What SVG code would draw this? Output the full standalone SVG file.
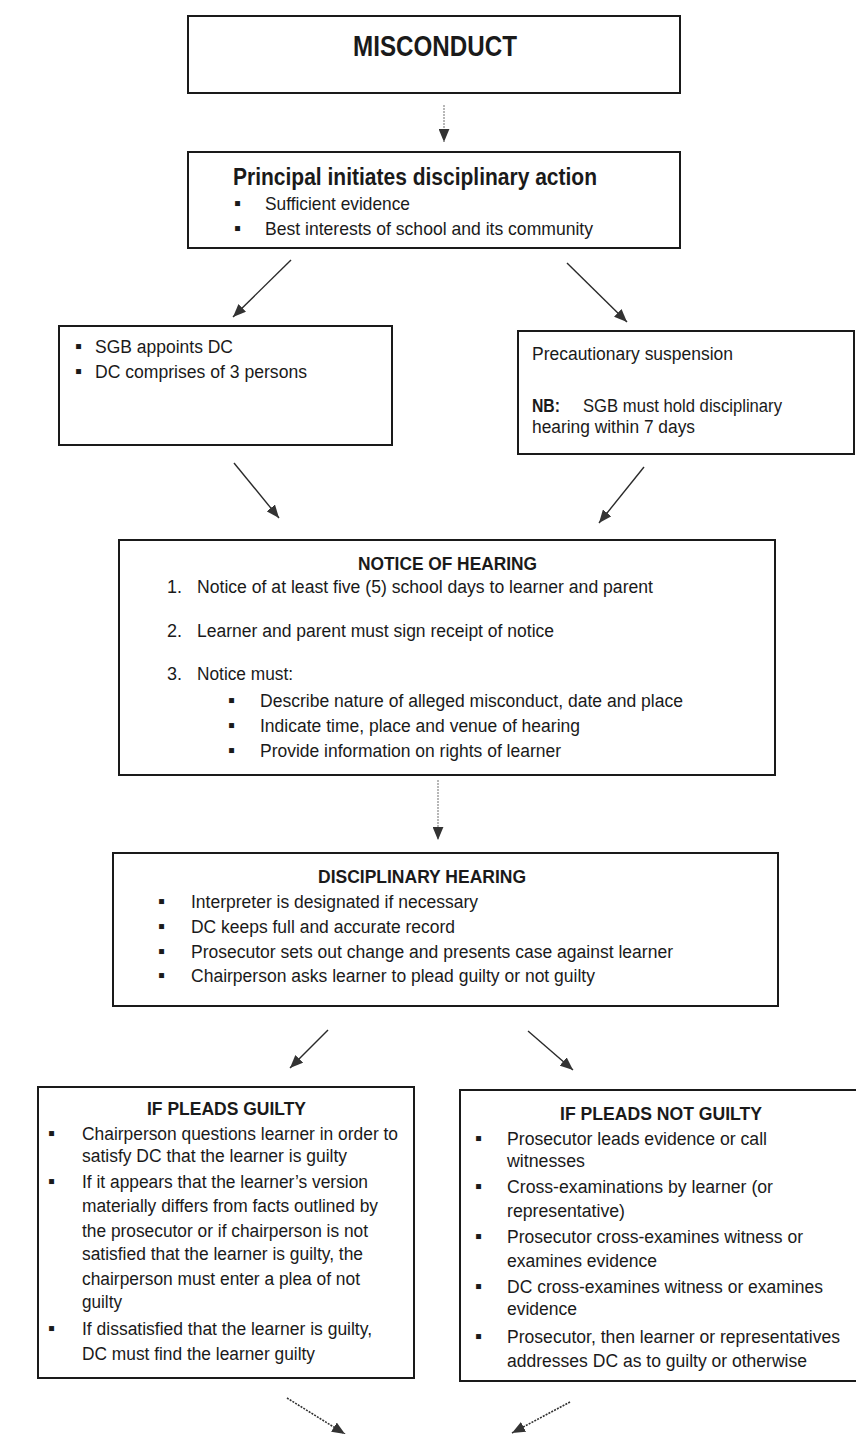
<svg xmlns="http://www.w3.org/2000/svg" width="856" height="1434" viewBox="0 0 856 1434">
<style>
.box{fill:#fff;stroke:#1a1a1a;stroke-width:2}
text{font-family:"Liberation Sans",Arial,sans-serif;fill:#1a1a1a}
.t{font-size:19px}
.s{font-size:18px}
.b{font-weight:bold}
.u{font-size:20px}
.c{stroke:#2a2a2a;stroke-width:1.4;fill:none}
.g{stroke:#888;stroke-width:1.2;stroke-dasharray:2 1;fill:none}
.d{stroke:#333;stroke-width:1.6;stroke-dasharray:2 1.2;fill:none}
</style>
<defs>
<marker id="ah" viewBox="0 0 12 10" refX="12" refY="5" markerWidth="13" markerHeight="11" markerUnits="userSpaceOnUse" orient="auto">
<path d="M0,0 L12,5 L0,10 z" fill="#333"/>
</marker>
</defs>
<rect width="856" height="1434" fill="#fff"/>
<g id="connectors">
<line class="g" x1="444" y1="105" x2="444" y2="142" marker-end="url(#ah)"/>
<line class="c" x1="291" y1="260" x2="233" y2="317" marker-end="url(#ah)"/>
<line class="c" x1="567" y1="263" x2="627" y2="322" marker-end="url(#ah)"/>
<line class="c" x1="234" y1="463" x2="279" y2="518" marker-end="url(#ah)"/>
<line class="c" x1="644" y1="467" x2="599" y2="523" marker-end="url(#ah)"/>
<line class="g" x1="438" y1="780" x2="438" y2="840" marker-end="url(#ah)"/>
<line class="c" x1="328" y1="1030" x2="290" y2="1068" marker-end="url(#ah)"/>
<line class="c" x1="528" y1="1031" x2="573" y2="1070" marker-end="url(#ah)"/>
<line class="d" x1="287" y1="1398" x2="345" y2="1434" marker-end="url(#ah)"/>
<line class="d" x1="570" y1="1402" x2="512" y2="1433" marker-end="url(#ah)"/>
</g>
<g id="misconduct">
<rect class="box" x="188" y="16" width="492" height="77"/>
<text x="353" y="56" font-size="29" class="b" textLength="164" lengthAdjust="spacingAndGlyphs">MISCONDUCT</text>
</g>
<g id="principal">
<rect class="box" x="188" y="152" width="492" height="96"/>
<text x="233" y="185" font-size="23" class="b" textLength="364" lengthAdjust="spacingAndGlyphs">Principal initiates disciplinary action</text>
<text x="234" y="210" class="u">▪</text>
<text x="265" y="210" class="t" textLength="145" lengthAdjust="spacingAndGlyphs">Sufficient evidence</text>
<text x="234" y="235" class="u">▪</text>
<text x="265" y="235" class="t" textLength="328" lengthAdjust="spacingAndGlyphs">Best interests of school and its community</text>
</g>
<g id="sgb">
<rect class="box" x="59" y="326" width="333" height="119"/>
<text x="75" y="353" class="u">▪</text>
<text x="95" y="353" class="s" textLength="138" lengthAdjust="spacingAndGlyphs">SGB appoints DC</text>
<text x="75" y="378" class="u">▪</text>
<text x="95" y="378" class="s" textLength="212" lengthAdjust="spacingAndGlyphs">DC comprises of 3 persons</text>
</g>
<g id="suspension">
<rect class="box" x="518" y="331" width="336" height="123"/>
<text x="532" y="360" class="s" textLength="201" lengthAdjust="spacingAndGlyphs">Precautionary suspension</text>
<text x="532" y="412" class="s b" textLength="28" lengthAdjust="spacingAndGlyphs">NB:</text>
<text x="583" y="412" class="s" textLength="199" lengthAdjust="spacingAndGlyphs">SGB must hold disciplinary</text>
<text x="532" y="433" class="s" textLength="163" lengthAdjust="spacingAndGlyphs">hearing within 7 days</text>
</g>
<g id="notice">
<rect class="box" x="119" y="540" width="656" height="235"/>
<text x="358" y="570" class="t b" textLength="179" lengthAdjust="spacingAndGlyphs">NOTICE OF HEARING</text>
<text x="167" y="593" class="s">1.</text>
<text x="197" y="593" class="s" textLength="456" lengthAdjust="spacingAndGlyphs">Notice of at least five (5) school days to learner and parent</text>
<text x="167" y="637" class="s">2.</text>
<text x="197" y="637" class="s" textLength="357" lengthAdjust="spacingAndGlyphs">Learner and parent must sign receipt of notice</text>
<text x="167" y="680" class="s">3.</text>
<text x="197" y="680" class="s" textLength="96" lengthAdjust="spacingAndGlyphs">Notice must:</text>
<text x="228" y="707" class="u">▪</text>
<text x="260" y="707" class="s" textLength="423" lengthAdjust="spacingAndGlyphs">Describe nature of alleged misconduct, date and place</text>
<text x="228" y="732" class="u">▪</text>
<text x="260" y="732" class="s" textLength="320" lengthAdjust="spacingAndGlyphs">Indicate time, place and venue of hearing</text>
<text x="228" y="757" class="u">▪</text>
<text x="260" y="757" class="s" textLength="301" lengthAdjust="spacingAndGlyphs">Provide information on rights of learner</text>
</g>
<g id="hearing">
<rect class="box" x="113" y="853" width="665" height="153"/>
<text x="318" y="883" class="t b" textLength="208" lengthAdjust="spacingAndGlyphs">DISCIPLINARY HEARING</text>
<text x="158" y="908" class="u">▪</text>
<text x="191" y="908" class="s" textLength="287" lengthAdjust="spacingAndGlyphs">Interpreter is designated if necessary</text>
<text x="158" y="933" class="u">▪</text>
<text x="191" y="933" class="s" textLength="264" lengthAdjust="spacingAndGlyphs">DC keeps full and accurate record</text>
<text x="158" y="958" class="u">▪</text>
<text x="191" y="958" class="s" textLength="482" lengthAdjust="spacingAndGlyphs">Prosecutor sets out change and presents case against learner</text>
<text x="158" y="982" class="u">▪</text>
<text x="191" y="982" class="s" textLength="404" lengthAdjust="spacingAndGlyphs">Chairperson asks learner to plead guilty or not guilty</text>
</g>
<g id="guilty">
<rect class="box" x="38" y="1087" width="376" height="291"/>
<text x="147" y="1115" class="s b" textLength="159" lengthAdjust="spacingAndGlyphs">IF PLEADS GUILTY</text>
<text x="48" y="1140" class="u">▪</text>
<text x="82" y="1140" class="s" textLength="316" lengthAdjust="spacingAndGlyphs">Chairperson questions learner in order to</text>
<text x="82" y="1162" class="s" textLength="265" lengthAdjust="spacingAndGlyphs">satisfy DC that the learner is guilty</text>
<text x="48" y="1188" class="u">▪</text>
<text x="82" y="1188" class="s" textLength="286" lengthAdjust="spacingAndGlyphs">If it appears that the learner’s version</text>
<text x="82" y="1212" class="s" textLength="296" lengthAdjust="spacingAndGlyphs">materially differs from facts outlined by</text>
<text x="82" y="1237" class="s" textLength="286" lengthAdjust="spacingAndGlyphs">the prosecutor or if chairperson is not</text>
<text x="82" y="1260" class="s" textLength="281" lengthAdjust="spacingAndGlyphs">satisfied that the learner is guilty, the</text>
<text x="82" y="1285" class="s" textLength="278" lengthAdjust="spacingAndGlyphs">chairperson must enter a plea of not</text>
<text x="82" y="1308" class="s" textLength="40" lengthAdjust="spacingAndGlyphs">guilty</text>
<text x="48" y="1335" class="u">▪</text>
<text x="82" y="1335" class="s" textLength="290" lengthAdjust="spacingAndGlyphs">If dissatisfied that the learner is guilty,</text>
<text x="82" y="1360" class="s" textLength="233" lengthAdjust="spacingAndGlyphs">DC must find the learner guilty</text>
</g>
<g id="notguilty">
<rect class="box" x="460" y="1090" width="400" height="291"/>
<text x="560" y="1120" class="s b" textLength="202" lengthAdjust="spacingAndGlyphs">IF PLEADS NOT GUILTY</text>
<text x="475" y="1145" class="u">▪</text>
<text x="507" y="1145" class="s" textLength="260" lengthAdjust="spacingAndGlyphs">Prosecutor leads evidence or call</text>
<text x="507" y="1167" class="s" textLength="78" lengthAdjust="spacingAndGlyphs">witnesses</text>
<text x="475" y="1193" class="u">▪</text>
<text x="507" y="1193" class="s" textLength="266" lengthAdjust="spacingAndGlyphs">Cross-examinations by learner (or</text>
<text x="507" y="1217" class="s" textLength="118" lengthAdjust="spacingAndGlyphs">representative)</text>
<text x="475" y="1243" class="u">▪</text>
<text x="507" y="1243" class="s" textLength="296" lengthAdjust="spacingAndGlyphs">Prosecutor cross-examines witness or</text>
<text x="507" y="1267" class="s" textLength="150" lengthAdjust="spacingAndGlyphs">examines evidence</text>
<text x="475" y="1293" class="u">▪</text>
<text x="507" y="1293" class="s" textLength="316" lengthAdjust="spacingAndGlyphs">DC cross-examines witness or examines</text>
<text x="507" y="1315" class="s" textLength="70" lengthAdjust="spacingAndGlyphs">evidence</text>
<text x="475" y="1343" class="u">▪</text>
<text x="507" y="1343" class="s" textLength="333" lengthAdjust="spacingAndGlyphs">Prosecutor, then learner or representatives</text>
<text x="507" y="1367" class="s" textLength="300" lengthAdjust="spacingAndGlyphs">addresses DC as to guilty or otherwise</text>
</g>
</svg>
